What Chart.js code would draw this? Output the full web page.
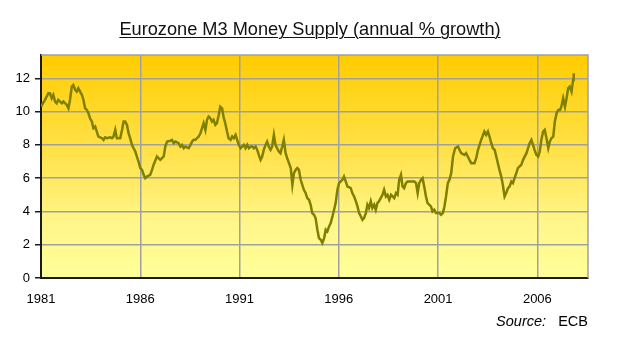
<!DOCTYPE html>
<html>
<head>
<meta charset="utf-8">
<script src="https://cdn.jsdelivr.net/npm/chart.js@4/dist/chart.umd.min.js"></script>
<style>
  html, body { margin: 0; padding: 0; background: #ffffff; }
  #wrap { position: relative; width: 620px; height: 340px; overflow: hidden; }
  #chart { position: absolute; left: 0; top: 0; }
  #title {
    position: absolute; left: 0; top: 19px; width: 620px; text-align: center;
    font-family: "Liberation Sans", Arial, sans-serif; font-size: 18.2px; line-height: 20px; color: #111;
  }
  #title span { text-decoration: underline; text-underline-offset: 2px; text-decoration-thickness: 1px; }
  #source {
    position: absolute; right: 32px; top: 313px;
    font-family: "Liberation Sans", Arial, sans-serif; font-size: 14.5px; line-height: 16px; color: #000;
    white-space: pre;
  }
</style>
</head>
<body>
<div id="wrap">
  <canvas id="chart" width="620" height="340"></canvas>
  <div id="title"><span>Eurozone M3 Money Supply (annual % growth)</span></div>
  <div id="source"><i>Source:</i>   ECB</div>
</div>
<script>
// Observation dates (decimal years)
const dates = [
  1981.00, 1981.20, 1981.37, 1981.45, 1981.54, 1981.62, 1981.71, 1981.79, 1981.87, 1981.96,
  1982.05, 1982.13, 1982.30, 1982.38, 1982.46, 1982.55, 1982.63, 1982.72, 1982.80, 1982.88, 1982.97,
  1983.06, 1983.14, 1983.22, 1983.31, 1983.39, 1983.47, 1983.56, 1983.64, 1983.73, 1983.81, 1983.89, 1983.98,
  1984.07, 1984.15, 1984.23, 1984.32, 1984.48, 1984.57, 1984.65, 1984.74, 1984.82, 1984.99,
  1985.08, 1985.16, 1985.24, 1985.33, 1985.41, 1985.49, 1985.58, 1985.66, 1985.75, 1985.83, 1985.91,
  1986.00, 1986.09, 1986.17, 1986.25, 1986.34, 1986.50, 1986.59, 1986.67, 1986.84,
  1987.01, 1987.18, 1987.26, 1987.35, 1987.52, 1987.60, 1987.68, 1987.77, 1987.93,
  1988.02, 1988.10, 1988.19, 1988.27, 1988.44, 1988.53, 1988.61, 1988.69, 1988.78, 1988.86, 1988.94,
  1989.03, 1989.11, 1989.19, 1989.28, 1989.36, 1989.44, 1989.53, 1989.61, 1989.69, 1989.78, 1989.86, 1989.95,
  1990.03, 1990.12, 1990.19, 1990.28, 1990.37, 1990.45, 1990.55, 1990.63, 1990.71, 1990.80, 1990.88, 1990.96,
  1991.05, 1991.13, 1991.22, 1991.30, 1991.39, 1991.47, 1991.56, 1991.64, 1991.72, 1991.81, 1991.89, 1991.97,
  1992.06, 1992.14, 1992.22, 1992.31, 1992.39, 1992.47, 1992.56, 1992.64, 1992.73, 1992.81, 1992.89, 1992.98,
  1993.06, 1993.15, 1993.23, 1993.32, 1993.40, 1993.49, 1993.58, 1993.66, 1993.74, 1993.83, 1993.91, 1993.99,
  1994.08, 1994.16, 1994.24, 1994.33, 1994.41, 1994.50, 1994.58, 1994.66, 1994.75, 1994.83, 1994.92,
  1995.00, 1995.09, 1995.17, 1995.26, 1995.34, 1995.42, 1995.51, 1995.59, 1995.68, 1995.76, 1995.84, 1995.93,
  1996.01, 1996.10, 1996.18, 1996.26, 1996.35, 1996.43, 1996.60, 1996.68, 1996.77, 1996.86, 1996.94,
  1997.02, 1997.11, 1997.19, 1997.27, 1997.36, 1997.44, 1997.52, 1997.61, 1997.69, 1997.78, 1997.86, 1997.94,
  1998.02, 1998.20, 1998.28, 1998.37, 1998.45, 1998.54, 1998.63, 1998.71, 1998.79, 1998.88, 1998.96,
  1999.04, 1999.13, 1999.21, 1999.29, 1999.38, 1999.46, 1999.64, 1999.80, 1999.89, 1999.97,
  2000.05, 2000.14, 2000.22, 2000.30, 2000.39, 2000.47, 2000.64, 2000.72, 2000.81, 2000.89,
  2001.06, 2001.15, 2001.24, 2001.32, 2001.40, 2001.49, 2001.57, 2001.66, 2001.75, 2001.86,
  2002.00, 2002.16, 2002.33, 2002.41, 2002.58, 2002.67, 2002.83, 2002.92,
  2003.01, 2003.09, 2003.17, 2003.33, 2003.42, 2003.51, 2003.59, 2003.68, 2003.76, 2003.85, 2003.93,
  2004.01, 2004.09, 2004.18, 2004.26, 2004.35, 2004.43, 2004.52, 2004.60, 2004.69, 2004.77, 2004.85, 2004.94,
  2005.02, 2005.10, 2005.19, 2005.28, 2005.45, 2005.61, 2005.70, 2005.78, 2005.86, 2005.95,
  2006.04, 2006.12, 2006.20, 2006.29, 2006.37, 2006.46, 2006.55, 2006.63, 2006.71, 2006.80, 2006.88, 2006.97,
  2007.05, 2007.14, 2007.21, 2007.30, 2007.39, 2007.47, 2007.55, 2007.63, 2007.72, 2007.80, 2007.83
];

// Annual growth of M3, %
const m3Growth = [
  10.3, 10.7, 11.1, 11.1, 10.8, 11.0, 10.6, 10.5, 10.7, 10.6,
  10.5, 10.6, 10.4, 10.2, 10.7, 11.5, 11.6, 11.3, 11.2, 11.4, 11.2,
  11.0, 10.7, 10.2, 10.1, 9.9, 9.6, 9.4, 9.0, 9.1, 8.8, 8.5, 8.45,
  8.4, 8.3, 8.45, 8.4, 8.45, 8.4, 8.5, 8.9, 8.4, 8.4,
  8.9, 9.4, 9.4, 9.2, 8.7, 8.4, 8.0, 7.8, 7.6, 7.3, 7.0,
  6.6, 6.5, 6.2, 6.0, 6.1, 6.2, 6.5, 6.8, 7.3,
  7.1, 7.3, 7.9, 8.2, 8.25, 8.3, 8.1, 8.2, 8.1,
  7.9, 8.0, 7.8, 7.9, 7.8, 8.0, 8.2, 8.3, 8.3, 8.4, 8.5,
  8.7, 9.0, 9.3, 8.9, 9.5, 9.7, 9.6, 9.4, 9.5, 9.2, 9.3, 9.8,
  10.3, 10.2, 9.7, 9.3, 8.8, 8.4, 8.3, 8.5, 8.4, 8.6, 8.3, 8.0,
  7.8, 7.9, 8.0, 7.8, 8.0, 7.8, 7.9, 7.9, 7.8, 7.9, 7.7, 7.4,
  7.1, 7.3, 7.7, 8.0, 8.2, 7.9, 7.7, 7.9, 8.6, 8.0, 7.8, 7.6,
  7.5, 7.9, 8.3, 7.5, 7.2, 6.9, 6.6, 5.6, 6.3, 6.5, 6.6, 6.5,
  5.9, 5.6, 5.3, 5.1, 4.8, 4.7, 4.4, 3.9, 3.8, 3.6, 2.9,
  2.4, 2.3, 2.1, 2.4, 2.9, 2.8, 3.1, 3.3, 3.7, 4.1, 4.5, 5.3,
  5.7, 5.8, 5.9, 6.1, 5.8, 5.5, 5.4, 5.1, 4.9, 4.6, 4.3,
  3.9, 3.7, 3.5, 3.6, 3.9, 4.4, 4.2, 4.6, 4.2, 4.4, 4.1, 4.5,
  4.6, 5.0, 5.3, 4.9, 5.0, 4.7, 5.0, 4.9, 4.8, 5.1, 5.0,
  5.9, 6.2, 5.5, 5.4, 5.7, 5.8, 5.8, 5.8, 5.7, 5.1,
  5.7, 5.9, 6.0, 5.5, 4.9, 4.5, 4.3, 4.0, 4.1, 3.9,
  3.9, 3.8, 3.9, 4.3, 4.9, 5.7, 5.9, 6.3, 7.3, 7.8,
  7.9, 7.5, 7.4, 7.5, 7.1, 6.9, 6.9, 7.2,
  7.7, 8.0, 8.3, 8.8, 8.6, 8.8, 8.5, 8.1, 7.8, 7.7, 7.3,
  6.9, 6.5, 6.1, 5.6, 4.9, 5.1, 5.4, 5.5, 5.8, 5.7, 6.0, 6.3,
  6.6, 6.7, 6.8, 7.1, 7.5, 8.1, 8.3, 8.0, 7.7, 7.4,
  7.3, 7.6, 8.3, 8.8, 8.9, 8.4, 7.8, 8.2, 8.4, 8.5, 9.4, 9.9,
  10.1, 10.1, 10.3, 10.8, 10.3, 10.8, 11.4, 11.5, 11.2, 11.9, 12.3
];

// Axis tick labels
const yearTicks = [1981, 1986, 1991, 1996, 2001, 2006];
const growthTicks = [0, 2, 4, 6, 8, 10, 12];

const points = dates.map((d, i) => ({ x: d, y: m3Growth[i] }));

// Yellow gradient behind the plot, plus the thin grey frame on top and right
const plotFrame = {
  id: 'plotFrame',
  beforeDraw(chart) {
    const { ctx, chartArea: { left, top, right, bottom } } = chart;
    const g = ctx.createLinearGradient(0, top, 0, bottom);
    g.addColorStop(0, '#ffcc00');
    g.addColorStop(0.45, '#ffe34d');
    g.addColorStop(0.75, '#fff68a');
    g.addColorStop(1, '#ffff99');
    ctx.save();
    ctx.fillStyle = g;
    ctx.fillRect(left, top, right - left, bottom - top);
    ctx.restore();
  },
  beforeDatasetsDraw(chart) {
    const { ctx, chartArea: { left, top, right, bottom } } = chart;
    ctx.save();
    ctx.strokeStyle = '#a0a0a0';
    ctx.lineWidth = 1.5;
    ctx.beginPath();
    ctx.moveTo(left, top);
    ctx.lineTo(right, top);
    ctx.lineTo(right, bottom);
    ctx.stroke();
    ctx.restore();
  }
};

const tickFont = { family: '"Liberation Sans", Arial, sans-serif', size: 13 };

new Chart(document.getElementById('chart'), {
  type: 'line',
  data: {
    datasets: [{
      data: points,
      borderColor: '#808000',
      borderWidth: 2.5,
      pointRadius: 0,
      tension: 0,
      fill: false
    }]
  },
  options: {
    responsive: false,
    animation: false,
    devicePixelRatio: 1,
    layout: { padding: { top: 55, right: 32, bottom: 0, left: 0 } },
    plugins: { legend: { display: false }, tooltip: { enabled: false }, title: { display: false } },
    scales: {
      x: {
        type: 'linear',
        min: 1981,
        max: 2008.55,
        afterBuildTicks: (scale) => { scale.ticks = yearTicks.map(v => ({ value: v })); },
        afterFit: (scale) => { scale.height = 62; },
        ticks: { color: '#000', font: tickFont, padding: 14, maxRotation: 0, autoSkip: false,
                 callback: (v) => String(v) },
        grid: {
          color: (c) => (c.tick && c.tick.value === 1981 ? 'rgba(0,0,0,0)' : '#a0a0a0'),
          lineWidth: 1.5,
          drawTicks: false
        },
        border: { display: true, color: '#1a1a1a', width: 2 }
      },
      y: {
        min: 0,
        max: 13.4,
        afterBuildTicks: (scale) => { scale.ticks = growthTicks.map(v => ({ value: v })); },
        afterFit: (scale) => { scale.width = 41; },
        ticks: { color: '#000', font: tickFont, padding: 5 },
        grid: {
          color: (c) => (c.tick && c.tick.value === 0 ? 'rgba(0,0,0,0)' : '#a0a0a0'),
          lineWidth: 1.5,
          tickColor: '#1a1a1a',
          tickLength: 6,
          drawTicks: true
        },
        border: { display: true, color: '#1a1a1a', width: 2 }
      }
    }
  },
  plugins: [plotFrame]
});
</script>
</body>
</html>
